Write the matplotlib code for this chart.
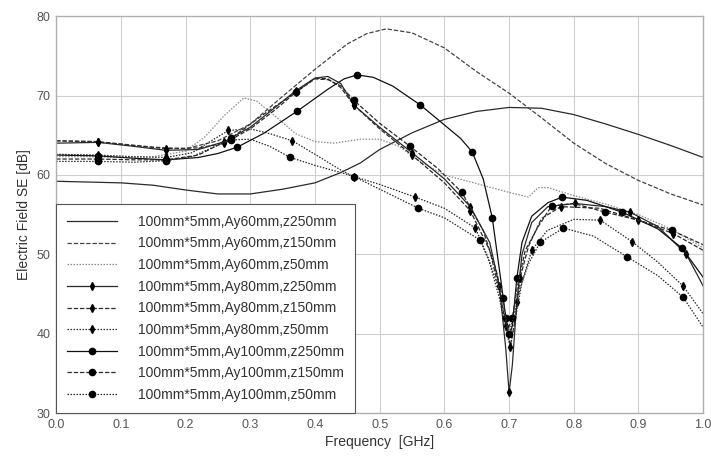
import matplotlib
matplotlib.use("Agg")
import matplotlib.pyplot as plt

# series: frequency [GHz] and SE [dB]
f_60_250 = [0, .05, .1, .15, .2, .25, .3, .35, .4, .44, .47, .5, .55, .6, .65, .7, .75, .8, .85, .9, .95, 1.0]
se_60_250 = [59.2, 59.1, 59.0, 58.7, 58.1, 57.6, 57.6, 58.2, 59.0, 60.3, 61.5, 63.2, 65.3, 67.0, 68.0, 68.5, 68.4, 67.6, 66.4, 65.1, 63.7, 62.2]

f_60_150 = [0, .05, .1, .15, .2, .25, .3, .35, .4, .45, .48, .51, .55, .6, .65, .7, .75, .8, .85, .9, .95, 1.0]
se_60_150 = [64.3, 64.2, 63.9, 63.5, 63.3, 64.3, 66.4, 69.9, 73.3, 76.5, 77.8, 78.4, 77.9, 76.0, 73.0, 70.3, 67.2, 64.0, 61.4, 59.3, 57.6, 56.2]

f_60_50 = [0, .05, .1, .15, .2, .23, .26, .29, .31, .34, .37, .4, .43, .47, .5, .53, .56, .6, .65, .7, .73, .745, .76, .78, .8, .85, .9, .95, 1.0]
se_60_50 = [62.3, 62.3, 62.2, 62.3, 63.0, 64.8, 67.5, 69.7, 69.3, 67.3, 65.2, 64.2, 64.0, 64.5, 64.5, 63.6, 61.8, 60.0, 58.9, 57.8, 57.2, 58.4, 58.4, 57.9, 57.4, 56.3, 55.0, 53.2, 50.8]

f_80_250 = [0, .065, .12, .17, .22, .26, .3, .34, .37, .4, .42, .44, .46, .5, .55, .6, .64, .67, .685, .695, .7, .705, .712, .72, .735, .76, .802, .85, .887, .93, .974, 1.0]
se_80_250 = [64.0, 64.1, 63.6, 63.1, 63.2, 64.2, 66.0, 68.6, 70.6, 72.2, 72.4, 71.5, 68.8, 66.0, 62.8, 59.5, 56.0, 51.5, 46.0, 38.0, 32.6, 36.0, 44.0, 50.0, 54.0, 56.0, 56.4, 56.0, 55.3, 53.5, 50.0, 46.0]
mk_80_250 = [.065, .17, .26, .37, .46, .55, .64, .685, .7, .712, .802, .887, .974]

f_80_150 = [0, .065, .12, .17, .22, .26, .3, .34, .37, .4, .42, .44, .46, .5, .55, .6, .64, .67, .685, .695, .702, .71, .717, .73, .75, .78, .84, .9, .954, 1.0]
se_80_150 = [64.3, 64.2, 63.7, 63.3, 63.4, 64.0, 65.8, 68.3, 70.4, 72.2, 72.1, 71.0, 68.8, 65.8, 62.5, 59.0, 55.5, 50.5, 45.5, 41.0, 38.5, 42.0, 47.0, 51.0, 54.5, 56.0, 55.8, 54.3, 52.6, 50.5]
mk_80_150 = [.065, .17, .26, .37, .46, .55, .64, .695, .717, .78, .9, .954]

f_80_50 = [0, .065, .12, .17, .21, .24, .266, .3, .33, .365, .4, .44, .46, .5, .555, .6, .648, .668, .685, .695, .702, .71, .72, .735, .759, .8, .841, .89, .93, .969, 1.0]
se_80_50 = [62.6, 62.5, 62.3, 62.2, 62.8, 64.3, 65.6, 65.8, 65.2, 64.3, 62.6, 60.6, 59.8, 58.8, 57.2, 55.8, 53.3, 49.5, 44.5, 40.5, 38.3, 42.0, 46.5, 50.5, 53.0, 54.4, 54.3, 51.6, 49.0, 46.0, 42.5]
mk_80_50 = [.065, .17, .266, .365, .46, .555, .648, .702, .735, .841, .89, .969]

f_100_250 = [0, .065, .12, .17, .22, .25, .28, .32, .372, .42, .445, .465, .49, .52, .563, .6, .625, .643, .66, .674, .686, .695, .7, .705, .712, .72, .735, .76, .782, .82, .875, .93, .967, 1.0]
se_100_250 = [62.5, 62.4, 62.1, 61.9, 62.2, 62.7, 63.5, 65.2, 68.0, 70.8, 72.1, 72.6, 72.3, 71.2, 68.8, 66.3, 64.6, 62.9, 59.5, 54.6, 47.5, 42.0, 39.5, 41.0, 47.0, 51.5, 54.8, 56.5, 57.2, 56.8, 55.3, 53.2, 50.8, 47.1]
mk_100_250 = [.065, .17, .28, .372, .465, .563, .643, .674, .695, .712, .782, .875, .967]

f_100_150 = [0, .065, .12, .17, .22, .27, .32, .37, .4, .42, .44, .46, .5, .547, .59, .627, .66, .68, .69, .698, .705, .713, .725, .745, .766, .8, .849, .9, .952, 1.0]
se_100_150 = [62.0, 62.0, 61.9, 61.9, 62.5, 64.6, 67.6, 70.4, 72.1, 72.0, 71.2, 69.4, 66.5, 63.6, 60.8, 57.8, 53.0, 48.0, 44.5, 40.5, 42.0, 46.0, 50.5, 53.5, 56.1, 56.4, 55.3, 54.3, 53.0, 51.2]
mk_100_150 = [.065, .17, .27, .37, .46, .547, .627, .69, .705, .766, .849, .952]

f_100_50 = [0, .065, .12, .17, .21, .24, .27, .3, .33, .362, .4, .44, .46, .5, .56, .6, .655, .67, .685, .695, .7, .708, .718, .73, .748, .784, .83, .882, .93, .969, 1.0]
se_100_50 = [61.7, 61.7, 61.6, 61.8, 62.3, 63.4, 64.4, 64.5, 63.6, 62.2, 61.2, 60.3, 59.8, 58.2, 55.8, 54.6, 51.8, 49.0, 45.5, 41.5, 40.0, 42.5, 46.0, 48.8, 51.5, 53.3, 52.3, 49.7, 47.3, 44.6, 40.8]
mk_100_50 = [.065, .17, .27, .362, .46, .56, .655, .7, .748, .784, .882, .969]

labels = [
    "100mm*5mm,Ay60mm,z250mm",
    "100mm*5mm,Ay60mm,z150mm",
    "100mm*5mm,Ay60mm,z50mm",
    "100mm*5mm,Ay80mm,z250mm",
    "100mm*5mm,Ay80mm,z150mm",
    "100mm*5mm,Ay80mm,z50mm",
    "100mm*5mm,Ay100mm,z250mm",
    "100mm*5mm,Ay100mm,z150mm",
    "100mm*5mm,Ay100mm,z50mm",
]

plt.rcParams['font.family'] = ['Liberation Sans', 'DejaVu Sans']

fig = plt.figure(figsize=(7.11, 4.62), dpi=100)
ax = fig.add_axes([0.079, 0.106, 0.910, 0.859])

dark = '#2a2a2a'
solid = '-'
dash = (0, (3.5, 1.5))
dot = (0, (1.2, 1.2))

series = [
    (f_60_250, se_60_250, None, solid, None, dark),
    (f_60_150, se_60_150, None, dash, None, '#444444'),
    (f_60_50, se_60_50, None, dot, None, '#8a8a8a'),
    (f_80_250, se_80_250, mk_80_250, solid, 'd', dark),
    (f_80_150, se_80_150, mk_80_150, dash, 'd', dark),
    (f_80_50, se_80_50, mk_80_50, dot, 'd', dark),
    (f_100_250, se_100_250, mk_100_250, solid, 'o', '#111111'),
    (f_100_150, se_100_150, mk_100_150, dash, 'o', dark),
    (f_100_50, se_100_50, mk_100_50, dot, 'o', dark),
]

for (f, se, mk, ls, marker, col), lab in zip(series, labels):
    kw = {}
    if marker is not None:
        kw['marker'] = marker
        kw['markevery'] = [f.index(m) for m in mk]
        kw['markersize'] = 4.5 if marker == 'o' else 3.6
        kw['markerfacecolor'] = 'black'
        kw['markeredgecolor'] = 'black'
    ax.plot(f, se, linestyle=ls, color=col, linewidth=0.9, label=lab, **kw)

ax.set_xlim(0, 1.0)
ax.set_ylim(30, 80)
ax.set_xticks([i / 10 for i in range(11)])
ax.set_xticklabels(['0.0', '0.1', '0.2', '0.3', '0.4', '0.5', '0.6', '0.7', '0.8', '0.9', '1.0'])
ax.set_yticks([30, 40, 50, 60, 70, 80])
ax.grid(True, color='#d0d0d0', linewidth=0.8)
ax.tick_params(length=0, labelsize=9, labelcolor='#555555', pad=4)
for s in ax.spines.values():
    s.set_color('#b0b0b0')
    s.set_linewidth(1.0)

ax.set_xlabel('Frequency  [GHz]', fontsize=10, color='#333333', labelpad=3)
ax.set_ylabel('Electric Field SE [dB]', fontsize=10, color='#333333', labelpad=4)

leg = ax.legend(loc='lower left', borderaxespad=0, fontsize=10, handlelength=3.6,
                handletextpad=1.5, labelspacing=0.55, borderpad=0.8, fancybox=False,
                framealpha=1, edgecolor='#555555')
leg.get_frame().set_linewidth(0.8)
for t in leg.get_texts():
    t.set_color('#333333')

fig.savefig('out.png', dpi=100)
